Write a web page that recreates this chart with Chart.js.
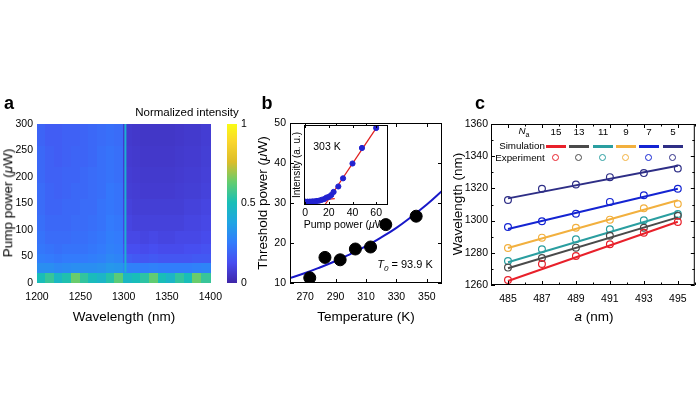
<!DOCTYPE html>
<html>
<head>
<meta charset="utf-8">
<script src="https://cdn.jsdelivr.net/npm/chart.js@4.4.1/dist/chart.umd.min.js"></script>
<style>
  body { margin: 0; background: #fff; }
  #fig { position: relative; width: 700px; height: 394px; overflow: hidden;
         font-family: 'Liberation Sans', Arial, sans-serif; color: #000; }
  canvas { position: absolute; }
  .t { position: absolute; white-space: nowrap; line-height: 1; transform: translate(-50%, -50%); }
  .rot { transform: translate(-50%, -50%) rotate(-90deg); }
  .lbl { font-weight: bold; font-size: 18px; }
  .ax { font-size: 13.5px; }
  .sm { font-size: 11.5px; }
  .lg { font-size: 9.8px; }
  .seg { position: absolute; width: 20px; height: 2.5px; margin-left: -10px; margin-top: -1px; }
  .ring { position: absolute; width: 5px; height: 5px; border: 1.3px solid; border-radius: 50%; margin-left: -4px; margin-top: -4px; }
</style>
</head>
<body>
<div id="fig">
  <canvas id="cA" width="230" height="200" style="left:0;top:110px"></canvas>
  <canvas id="cBar" width="40" height="200" style="left:227px;top:110px"></canvas>
  <canvas id="cB" width="210" height="200" style="left:250px;top:110px"></canvas>
  <canvas id="cIn" width="100" height="105" style="left:294px;top:114px"></canvas>
  <canvas id="cC" width="250" height="200" style="left:450px;top:110px"></canvas>

  <div class="t lbl" style="left:9px;top:103px">a</div>
  <div class="t lbl" style="left:267px;top:103px">b</div>
  <div class="t lbl" style="left:480px;top:103px">c</div>

  <div class="t sm" style="left:187px;top:113px">Normalized intensity</div>
  <div class="t ax rot" style="left:8px;top:203px">Pump power (<i>μ</i>W)</div>
  <div class="t ax" style="left:124px;top:317px">Wavelength (nm)</div>

  <div class="t ax rot" style="left:263px;top:203px">Threshold power (<i>μ</i>W)</div>
  <div class="t ax" style="left:366px;top:317px">Temperature (K)</div>
  <div class="t" style="left:405px;top:266px;font-size:11px"><i>T</i><sub style="font-size:8px"><i>0</i></sub> = 93.9 K</div>
  <div class="t" style="left:327px;top:146px;font-size:10.5px">303 K</div>
  <div class="t rot" style="left:297px;top:165px;font-size:10px">Intensity (a. u.)</div>
  <div class="t" style="left:346px;top:224px;font-size:10.5px">Pump power (<i>μ</i>W)</div>

  <div class="t ax rot" style="left:458px;top:204px">Wavelength (nm)</div>
  <div class="t ax" style="left:594px;top:317px"><i>a</i> (nm)</div>
  <div id="legC"></div>
</div>

<script>
// ---------- data ----------
// (a) spectra map: wavelength bin edges (nm), pump power bin edges (uW), normalized intensity rows (bottom -> top)
const wlEdges = [1200, 1210, 1220, 1230, 1240, 1250, 1260, 1270, 1280, 1290, 1300,
                 1310, 1320, 1330, 1340, 1350, 1360, 1370, 1380, 1390, 1400];
const pumpEdges = [0, 20, 38, 55, 75, 100, 130, 160, 190, 220, 260, 300];
const intensity = [
  [0.50, 0.56, 0.47, 0.52, 0.64, 0.55, 0.49, 0.46, 0.53, 0.62, 0.47, 0.50, 0.54, 0.63, 0.50, 0.46, 0.55, 0.50, 0.64, 0.56],
  [0.31, 0.31, 0.29, 0.30, 0.31, 0.31, 0.31, 0.32, 0.34, 0.33, 0.27, 0.27, 0.26, 0.27, 0.26, 0.26, 0.26, 0.26, 0.27, 0.28],
  [0.26, 0.25, 0.24, 0.25, 0.25, 0.25, 0.26, 0.27, 0.29, 0.28, 0.17, 0.16, 0.15, 0.16, 0.15, 0.15, 0.15, 0.15, 0.16, 0.16],
  [0.24, 0.23, 0.22, 0.23, 0.23, 0.23, 0.24, 0.25, 0.27, 0.26, 0.13, 0.13, 0.12, 0.13, 0.12, 0.12, 0.12, 0.13, 0.13, 0.14],
  [0.23, 0.21, 0.21, 0.21, 0.22, 0.22, 0.23, 0.24, 0.26, 0.25, 0.11, 0.11, 0.10, 0.11, 0.10, 0.10, 0.11, 0.11, 0.11, 0.12],
  [0.22, 0.20, 0.20, 0.20, 0.21, 0.21, 0.22, 0.23, 0.25, 0.24, 0.10, 0.09, 0.09, 0.09, 0.09, 0.09, 0.09, 0.10, 0.10, 0.11],
  [0.21, 0.19, 0.19, 0.20, 0.20, 0.21, 0.21, 0.23, 0.24, 0.23, 0.09, 0.08, 0.08, 0.08, 0.08, 0.08, 0.08, 0.09, 0.09, 0.10],
  [0.21, 0.19, 0.18, 0.19, 0.20, 0.20, 0.21, 0.22, 0.24, 0.23, 0.08, 0.075, 0.07, 0.07, 0.07, 0.07, 0.075, 0.08, 0.08, 0.09],
  [0.20, 0.18, 0.18, 0.19, 0.19, 0.20, 0.21, 0.22, 0.23, 0.22, 0.075, 0.07, 0.065, 0.065, 0.065, 0.065, 0.07, 0.075, 0.075, 0.085],
  [0.20, 0.18, 0.17, 0.18, 0.19, 0.19, 0.20, 0.22, 0.23, 0.22, 0.07, 0.065, 0.06, 0.06, 0.06, 0.06, 0.065, 0.07, 0.07, 0.08],
  [0.19, 0.17, 0.17, 0.18, 0.18, 0.19, 0.20, 0.21, 0.22, 0.21, 0.065, 0.06, 0.055, 0.055, 0.055, 0.055, 0.06, 0.065, 0.065, 0.075]
];
const lasingWl = 1302;
const lasingPump = [20, 300];
const lasingLevel = 0.43;
const aTicksX = [1200, 1250, 1300, 1350, 1400];
const aTicksY = [0, 50, 100, 150, 200, 250, 300];
const cbTicks = [0, 0.5, 1];

// (b) threshold vs temperature
const tempB = [273, 283, 293, 303, 313, 323, 343];
const threshB = [11.3, 16.4, 15.8, 18.5, 19.0, 24.6, 26.7];
const fitT = [260, 270, 280, 290, 300, 310, 320, 330, 340, 350, 360];
const fitP = [11.25, 12.5, 13.95, 15.5, 17.3, 19.2, 21.4, 23.8, 26.6, 29.6, 33.0];
const bTicksX = [270, 290, 310, 330, 350];
const bTicksY = [10, 20, 30, 40, 50];

// (b) inset: L-L curve at 303 K
const pumpIn = [0, 2, 4, 6, 8, 10, 12, 14, 16, 18, 20, 22, 24, 28, 32, 40, 48, 60];
const intIn = [0.005, 0.005, 0.006, 0.008, 0.01, 0.015, 0.02, 0.03, 0.04, 0.06, 0.07, 0.094, 0.136, 0.21, 0.32, 0.52, 0.73, 1.0];
const linFitX = [17, 61];
const linFitY = [-0.03, 1.02];
const subFitX = [0, 25];
const subFitY = [0.01, 0.045];
const inTicksX = [0, 20, 40, 60];

// (c) lasing wavelength vs lattice constant
const latA = [485, 487, 489, 491, 493, 495];
const naList = [15, 13, 11, 9, 7, 5];
const simA = [485, 495];
const simWl = [
  [1262.5, 1299.3],
  [1270.4, 1302.0],
  [1274.1, 1305.3],
  [1283.0, 1312.6],
  [1294.8, 1319.8],
  [1313.8, 1334.1]
];
const expWl = [
  [1263.1, 1273.0, 1278.0, 1285.3, 1292.5, 1299.1],
  [1270.8, 1276.8, 1283.2, 1290.6, 1295.6, 1303.0],
  [1274.9, 1282.2, 1288.4, 1294.6, 1300.2, 1304.1],
  [1283.0, 1289.4, 1295.6, 1300.6, 1307.6, 1310.3],
  [1296.0, 1299.6, 1304.3, 1311.6, 1315.7, 1319.8],
  [1312.8, 1319.8, 1322.4, 1327.0, 1329.5, 1332.4]
];
const cTicksX = [485, 487, 489, 491, 493, 495];
const cTicksY = [1260, 1280, 1300, 1320, 1340, 1360];
const cMinorX = [484, 485, 486, 487, 488, 489, 490, 491, 492, 493, 494, 495, 496];
const cMinorY = [1270, 1290, 1310, 1330, 1350];

// ---------- styles ----------
const seriesColors = ['#e8202a', '#4a4a4a', '#2a9ea0', '#f2b03e', '#1424d2', '#2e2e86'];
const parulaStops = [
  [0.000, 62, 38, 168], [0.127, 72, 77, 240], [0.254, 50, 124, 252],
  [0.381, 32, 165, 227], [0.508, 25, 191, 182], [0.635, 100, 205, 111],
  [0.762, 220, 189, 41], [0.889, 250, 214, 45], [1.000, 249, 251, 21]
];
function parula(v) {
  v = Math.max(0, Math.min(1, v));
  for (let i = 1; i < parulaStops.length; i++) {
    const a = parulaStops[i - 1], b = parulaStops[i];
    if (v <= b[0]) {
      const f = (v - a[0]) / (b[0] - a[0]);
      const c = [1, 2, 3].map(k => Math.round(a[k] + (b[k] - a[k]) * f));
      return `rgb(${c[0]},${c[1]},${c[2]})`;
    }
  }
  return 'rgb(249,251,21)';
}

Chart.defaults.font.family = "'Liberation Sans', Arial, sans-serif";
Chart.defaults.font.size = 10.5;
Chart.defaults.color = '#000';
Chart.defaults.animation = false;
Chart.defaults.responsive = false;
Chart.defaults.devicePixelRatio = 1;
Chart.defaults.plugins.legend.display = false;
Chart.defaults.plugins.tooltip.enabled = false;

// linear axis with given ticks and a fixed thickness
const axis = (min, max, ticks, size, horiz, pad) => ({
  type: 'linear', min, max,
  grid: { display: false, drawTicks: false },
  border: { display: false },
  ticks: { padding: pad !== undefined ? pad : (horiz ? 8 : 4), callback: v => String(v) },
  afterBuildTicks: s => { s.ticks = ticks.map(v => ({ value: v })); },
  afterFit: s => { if (horiz) s.height = size; else s.width = size; }
});

// box frame with inward ticks
const frame = (len, minorX, minorY, minorLen) => ({
  id: 'frame',
  afterDatasetsDraw(chart) {
    const { ctx, chartArea: a, scales: { x, y } } = chart;
    ctx.save();
    ctx.strokeStyle = '#000';
    ctx.lineWidth = 1;
    ctx.strokeRect(a.left + 0.5, a.top + 0.5, a.right - a.left - 1, a.bottom - a.top - 1);
    ctx.beginPath();
    const mark = (vals, l) => {
      vals.x.forEach(v => {
        const px = Math.round(x.getPixelForValue(v)) + 0.5;
        ctx.moveTo(px, a.bottom); ctx.lineTo(px, a.bottom - l);
        ctx.moveTo(px, a.top); ctx.lineTo(px, a.top + l);
      });
      vals.y.forEach(v => {
        const py = Math.round(y.getPixelForValue(v)) + 0.5;
        ctx.moveTo(a.left, py); ctx.lineTo(a.left + l, py);
        ctx.moveTo(a.right, py); ctx.lineTo(a.right - l, py);
      });
    };
    mark({ x: x.ticks.map(t => t.value), y: y.ticks.map(t => t.value) }, len);
    mark({ x: minorX || [], y: minorY || [] }, minorLen || 2);
    ctx.stroke();
    ctx.restore();
  }
});

// ---------- (a) heat map ----------
new Chart(document.getElementById('cA'), {
  type: 'scatter',
  data: {
    datasets: [{
      data: lasingPump.map(p => ({ x: lasingWl, y: p })),
      showLine: true, borderColor: parula(lasingLevel), borderWidth: 2, pointRadius: 0
    }]
  },
  options: {
    layout: { padding: { top: 14, right: 19, left: 0, bottom: 0 } },
    scales: {
      x: axis(1200, 1400, aTicksX, 27, true),
      y: axis(0, 300, aTicksY, 37, false)
    }
  },
  plugins: [{
    id: 'heat',
    beforeDatasetsDraw(chart) {
      const { ctx, scales: { x, y } } = chart;
      ctx.save();
      intensity.forEach((row, i) => {
        const y0 = y.getPixelForValue(pumpEdges[i]), y1 = y.getPixelForValue(pumpEdges[i + 1]);
        row.forEach((v, j) => {
          const x0 = x.getPixelForValue(wlEdges[j]), x1 = x.getPixelForValue(wlEdges[j + 1]);
          ctx.fillStyle = parula(v);
          ctx.fillRect(Math.floor(x0), Math.floor(y1), Math.ceil(x1) - Math.floor(x0), Math.ceil(y0) - Math.floor(y1));
        });
      });
      ctx.restore();
    }
  }]
});

// colour bar
const cbAxis = axis(0, 1, cbTicks, 30, false);
cbAxis.position = 'right';
new Chart(document.getElementById('cBar'), {
  type: 'scatter',
  data: { datasets: [] },
  options: {
    layout: { padding: { top: 14, bottom: 27, left: 0, right: 0 } },
    scales: {
      x: { display: false, min: 0, max: 1 },
      y: cbAxis
    }
  },
  plugins: [{
    id: 'cbar',
    beforeDatasetsDraw(chart) {
      const { ctx, chartArea: a } = chart;
      const g = ctx.createLinearGradient(0, a.bottom, 0, a.top);
      parulaStops.forEach(s => g.addColorStop(s[0], `rgb(${s[1]},${s[2]},${s[3]})`));
      ctx.fillStyle = g;
      ctx.fillRect(a.left, a.top, a.right - a.left, a.bottom - a.top);
    }
  }]
});

// ---------- (b) threshold vs temperature ----------
new Chart(document.getElementById('cB'), {
  type: 'scatter',
  data: {
    datasets: [
      {
        data: tempB.map((t, i) => ({ x: t, y: threshB[i] })),
        pointRadius: 6, backgroundColor: '#000', borderColor: '#000'
      },
      {
        data: fitT.map((t, i) => ({ x: t, y: fitP[i] })),
        showLine: true, tension: 0.4, borderColor: '#1818c8', borderWidth: 2, pointRadius: 0
      }
    ]
  },
  options: {
    layout: { padding: { top: 13, right: 18, left: 0, bottom: 0 } },
    scales: {
      x: axis(260, 360, bTicksX, 27, true),
      y: axis(10, 50, bTicksY, 40, false)
    }
  },
  plugins: [frame(4)]
});

// inset
new Chart(document.getElementById('cIn'), {
  type: 'scatter',
  data: {
    datasets: [
      {
        data: pumpIn.map((p, i) => ({ x: p, y: intIn[i] })),
        pointRadius: 2.6, backgroundColor: '#2222d0', borderColor: '#2222d0'
      },
      {
        data: linFitX.map((p, i) => ({ x: p, y: linFitY[i] })),
        showLine: true, borderColor: '#e02020', borderWidth: 1.3, pointRadius: 0
      },
      {
        data: subFitX.map((p, i) => ({ x: p, y: subFitY[i] })),
        showLine: true, borderColor: '#e02020', borderWidth: 1.3, pointRadius: 0
      }
    ]
  },
  options: {
    layout: { padding: { top: 11, right: 6, left: 0, bottom: 0 } },
    scales: {
      x: axis(-1, 70, inTicksX, 14, true, 2),
      y: axis(-0.04, 1.04, [], 10, false)
    }
  },
  plugins: [{
    id: 'bg',
    beforeDraw(chart) {
      const { ctx, chartArea: a } = chart;
      ctx.fillStyle = '#fff';
      ctx.fillRect(a.left, a.top, a.right - a.left, a.bottom - a.top);
    }
  }, frame(3)]
});

// ---------- (c) wavelength vs lattice constant ----------
const cSets = [];
naList.forEach((n, k) => {
  cSets.push({
    data: simA.map((a, i) => ({ x: a, y: simWl[k][i] })),
    showLine: true, borderColor: seriesColors[k], borderWidth: 2, pointRadius: 0
  });
  cSets.push({
    data: latA.map((a, i) => ({ x: a, y: expWl[k][i] })),
    pointRadius: 3.4, pointBorderWidth: 1.2, borderColor: seriesColors[k], backgroundColor: 'rgba(0,0,0,0)'
  });
});
new Chart(document.getElementById('cC'), {
  type: 'scatter',
  data: { datasets: cSets },
  options: {
    layout: { padding: { top: 14, right: 2, left: 0, bottom: 0 } },
    scales: {
      x: axis(484, 496, cTicksX, 25, true),
      y: axis(1260, 1360, cTicksY, 41, false, 3)
    }
  },
  plugins: [frame(4, cMinorX, cMinorY, 2.5)]
});

// legend of (c)
const legXs = [556, 579, 603, 626, 649, 673];
let leg = '<div class="t lg" style="left:524px;top:132px"><i>N</i><sub style="font-size:7px">a</sub></div>' +
  '<div class="t lg" style="left:522px;top:146px">Simulation</div>' +
  '<div class="t lg" style="left:520px;top:158px">Experiment</div>';
naList.forEach((n, k) => {
  const x = legXs[k];
  leg += `<div class="t lg" style="left:${x}px;top:132px">${n}</div>`;
  leg += `<div class="seg" style="left:${x}px;top:146px;background:${seriesColors[k]}"></div>`;
  leg += `<div class="ring" style="left:${x}px;top:158px;border-color:${seriesColors[k]}"></div>`;
});
document.getElementById('legC').innerHTML = leg;
</script>
</body>
</html>
